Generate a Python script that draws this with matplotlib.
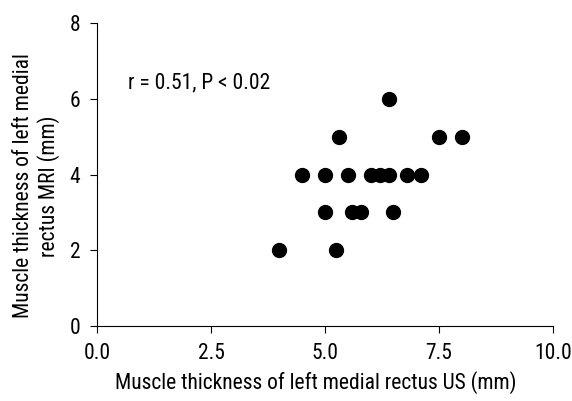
import matplotlib

matplotlib.use("Agg")
import matplotlib.pyplot as plt
from matplotlib import font_manager

# Values
us_mm = [6.4, 5.3, 7.5, 8.0,
         4.5, 5.0, 5.5, 6.0, 6.2, 6.4, 6.8, 7.1,
         5.0, 5.6, 5.8, 6.5,
         4.0, 5.25]
mri_mm = [6, 5, 5, 5,
          4, 4, 4, 4, 4, 4, 4, 4,
          3, 3, 3, 3,
          2, 2]
x_ticks = [0.0, 2.5, 5.0, 7.5, 10.0]
y_ticks = [0, 2, 4, 6, 8]

names = {f.name for f in font_manager.fontManager.ttflist}
family = [n for n in ["Roboto Condensed", "Liberation Sans Narrow", "Roboto"] if n in names]
plt.rcParams["font.family"] = family + ["DejaVu Sans"]

fig = plt.figure(figsize=(5.72, 4.01), dpi=100)
ax = fig.add_axes([0.1696, 0.187, 0.7972, 0.7556])
ax.scatter(us_mm, mri_mm, s=100, color="black", zorder=3, clip_on=False)

ax.set_xlim(0, 10)
ax.set_ylim(0, 8)
ax.set_xticks(x_ticks)
ax.set_xticklabels([f"{t:.1f}" for t in x_ticks])
ax.set_yticks(y_ticks)
for side in ["top", "right"]:
    ax.spines[side].set_visible(False)
ax.tick_params(direction="out", length=5, labelsize=15.5, pad=7)
ax.set_xlabel("Muscle thickness of left medial rectus US (mm)", fontsize=15.5, labelpad=5)
ax.xaxis.label.set_x(0.48)
ax.set_ylabel("Muscle thickness of left medial\nrectus MRI (mm)", fontsize=15.5,
              labelpad=7, linespacing=1.15)
ax.yaxis.label.set_y(0.462)
ax.text(0.68, 6.42, "r = 0.51, P < 0.02", fontsize=15.5, va="center", ha="left")

fig.savefig("out.png", dpi=100)
